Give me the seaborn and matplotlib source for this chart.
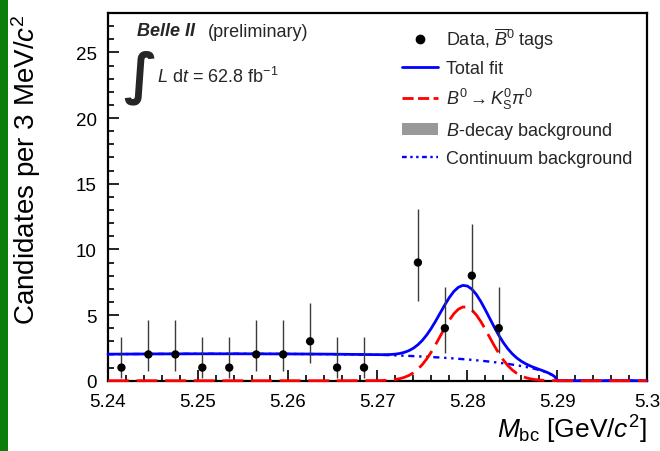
import matplotlib
matplotlib.use("Agg")
import matplotlib.pyplot as plt
import seaborn as sns
import pandas as pd
from matplotlib.lines import Line2D
from matplotlib.patches import Patch, Rectangle
from matplotlib.ticker import MultipleLocator, FormatStrFormatter

# ---------------- data ----------------
bin_centers = [5.2415, 5.2445, 5.2475, 5.2505, 5.2535, 5.2565, 5.2595, 5.2625,
               5.2655, 5.2685, 5.2715, 5.2745, 5.2775, 5.2805, 5.2835, 5.2865,
               5.2895, 5.2925, 5.2955, 5.2985]
counts = [1, 2, 2, 1, 1, 2, 2, 3, 1, 1, 0, 9, 4, 8, 4, 0, 0, 0, 0, 0]
err_low = [0.83, 1.29, 1.29, 0.83, 0.83, 1.29, 1.29, 1.63, 0.83, 0.83, 0.0,
           2.94, 1.91, 2.77, 1.91, 0.0, 0.0, 0.0, 0.0, 0.0]
err_high = [2.30, 2.64, 2.64, 2.30, 2.30, 2.64, 2.64, 2.92, 2.30, 2.30, 0.0,
            4.11, 3.16, 3.95, 3.16, 0.0, 0.0, 0.0, 0.0, 0.0]

mbc = [5.240, 5.245, 5.250, 5.255, 5.260, 5.265,
       5.2700, 5.2705, 5.2710, 5.2715, 5.2720, 5.2725, 5.2730, 5.2735, 5.2740,
       5.2745, 5.2750, 5.2755, 5.2760, 5.2765, 5.2770, 5.2775, 5.2780, 5.2785,
       5.2790, 5.2795, 5.2800, 5.2805, 5.2810, 5.2815, 5.2820, 5.2825, 5.2830,
       5.2835, 5.2840, 5.2845, 5.2850, 5.2855, 5.2860, 5.2865, 5.2870, 5.2875,
       5.2880, 5.2885, 5.2890, 5.2895, 5.2898, 5.2900, 5.2950, 5.3000]
continuum = [2.02, 2.04, 2.05, 2.05, 2.04, 2.02,
             1.976, 1.965, 1.954, 1.942, 1.929, 1.916, 1.903, 1.888, 1.873,
             1.857, 1.840, 1.823, 1.804, 1.784, 1.764, 1.742, 1.720, 1.696,
             1.670, 1.644, 1.616, 1.587, 1.556, 1.523, 1.488, 1.452, 1.413,
             1.371, 1.327, 1.280, 1.229, 1.175, 1.116, 1.051, 0.981, 0.902,
             0.812, 0.709, 0.583, 0.415, 0.26, 0.0, 0.0, 0.0]
signal = [0.0, 0.0, 0.0, 0.0, 0.0, 0.0,
          0.009, 0.017, 0.031, 0.056, 0.096, 0.161, 0.259, 0.403, 0.606,
          0.881, 1.237, 1.679, 2.201, 2.789, 3.415, 4.040, 4.618, 5.101,
          5.444, 5.615, 5.595, 5.388, 5.014, 4.508, 3.917, 3.289, 2.668,
          2.091, 1.584, 1.160, 0.820, 0.560, 0.370, 0.236, 0.146, 0.087,
          0.050, 0.028, 0.015, 0.008, 0.006, 0.0, 0.0, 0.0]

x_ticks = [5.24, 5.25, 5.26, 5.27, 5.28, 5.29, 5.30]
y_ticks = [0, 5, 10, 15, 20, 25]

# ---------------- style ----------------
sns.set_theme(style="ticks")
plt.rcParams["font.family"] = ["Liberation Sans", "DejaVu Sans"]
plt.rcParams["mathtext.fontset"] = "custom"
plt.rcParams["mathtext.rm"] = "Liberation Sans"
plt.rcParams["mathtext.it"] = "Liberation Sans:italic"
plt.rcParams["mathtext.bf"] = "Liberation Sans:bold"

fig = plt.figure(figsize=(6.6, 4.52), dpi=100)
fig.patch.set_facecolor("white")
ax = fig.add_axes([0.1636, 0.1555, 0.8167, 0.8135])
ax.set_facecolor("white")

fits = pd.DataFrame({"mbc": mbc, "continuum": continuum, "signal": signal})
fits["total"] = fits["continuum"] + fits["signal"]

sns.lineplot(data=fits, x="mbc", y="continuum", ax=ax, color="#0000ff", lw=1.7,
             linestyle=(0, (2.6, 2.0, 1, 2.0, 1, 2.0)))
sns.lineplot(data=fits, x="mbc", y="total", ax=ax, color="#0000ff", lw=2.0)
sns.lineplot(data=fits, x="mbc", y="signal", ax=ax, color="#ff0000", lw=2.0,
             linestyle=(0, (7.5, 2.8)))
for z, ln in zip([3, 4, 5], ax.lines):
    ln.set_clip_on(False)
    ln.set_zorder(z)

pts = pd.DataFrame({"x": bin_centers, "n": counts, "lo": err_low, "hi": err_high})
pts = pts[pts["n"] > 0]
ax.errorbar(pts["x"], pts["n"], yerr=[pts["lo"], pts["hi"]], fmt="none",
            ecolor="#3a3a3a", elinewidth=1.0, capsize=0, zorder=6)
sns.scatterplot(data=pts, x="x", y="n", ax=ax, color="black", s=36,
                edgecolor="none", zorder=7)

ax.set_xlim(5.24, 5.30)
ax.set_ylim(0, 28)
ax.set_xticks(x_ticks)
ax.set_yticks(y_ticks)
ax.xaxis.set_major_formatter(FormatStrFormatter("%g"))
ax.xaxis.set_minor_locator(MultipleLocator(0.002))
ax.yaxis.set_minor_locator(MultipleLocator(1))
ax.tick_params(which="both", direction="in", top=False, right=False,
               color="black", width=1.2, labelsize=13.5, labelcolor="black")
ax.tick_params(which="major", length=8)
ax.tick_params(which="minor", length=4)
ax.tick_params(axis="x", which="major", pad=9)
ax.tick_params(axis="y", which="major", pad=8)
for s in ax.spines.values():
    s.set_visible(True)
    s.set_color("black")
    s.set_linewidth(1.6)
    s.set_zorder(2)

ax.set_xlabel(r"$M_{\rm bc}$ [GeV/$c^{2}$]", fontsize=19, loc="right",
              labelpad=2, color="black")
ax.set_ylabel(r"Candidates per 3 MeV/$c^{2}$", fontsize=20, loc="top",
              labelpad=24, color="black")

# annotations
ax.text(0.053, 0.952, "Belle II", transform=ax.transAxes, fontsize=13,
        fontweight="bold", fontstyle="italic", va="center", ha="left")
ax.text(0.1855, 0.950, "(preliminary)", transform=ax.transAxes, fontsize=13,
        va="center", ha="left")
ax.text(0.0594, 0.826, "\u222b", transform=ax.transAxes, fontsize=40,
        family=["DejaVu Sans"], fontweight="bold", va="center", ha="center")
ax.text(0.0903, 0.829, r"$L$ d$t$ = 62.8 fb$^{-1}$", transform=ax.transAxes,
        fontsize=13, va="center", ha="left")

handles = [
    Line2D([], [], marker="o", color="black", ls="none", ms=6),
    Line2D([], [], color="#0000ff", lw=2.0),
    Line2D([], [], color="#ff0000", lw=2.0, ls=(0, (4, 1.6))),
    Patch(facecolor="#999999", edgecolor="none"),
    Line2D([], [], color="#0000ff", lw=1.7, ls=(0, (2, 1.5, 1, 1.5, 1, 1.5))),
]
labels = [
    r"Data, $\overline{B}^{0}$ tags",
    "Total fit",
    r"$B^{0} \rightarrow K^{0}_{\rm S}\pi^{0}$",
    r"$B$-decay background",
    "Continuum background",
]
ax.legend(handles, labels, loc="upper left", bbox_to_anchor=(0.5455, 0.966),
          frameon=False, fontsize=13, handlelength=2.0, handletextpad=0.45,
          labelspacing=0.5, borderpad=0, borderaxespad=0)

fig.add_artist(Rectangle((0, 0), 8 / 660, 1, transform=fig.transFigure,
                         facecolor="#0b7d0b", edgecolor="none"))

fig.savefig("out.png", dpi=100)
